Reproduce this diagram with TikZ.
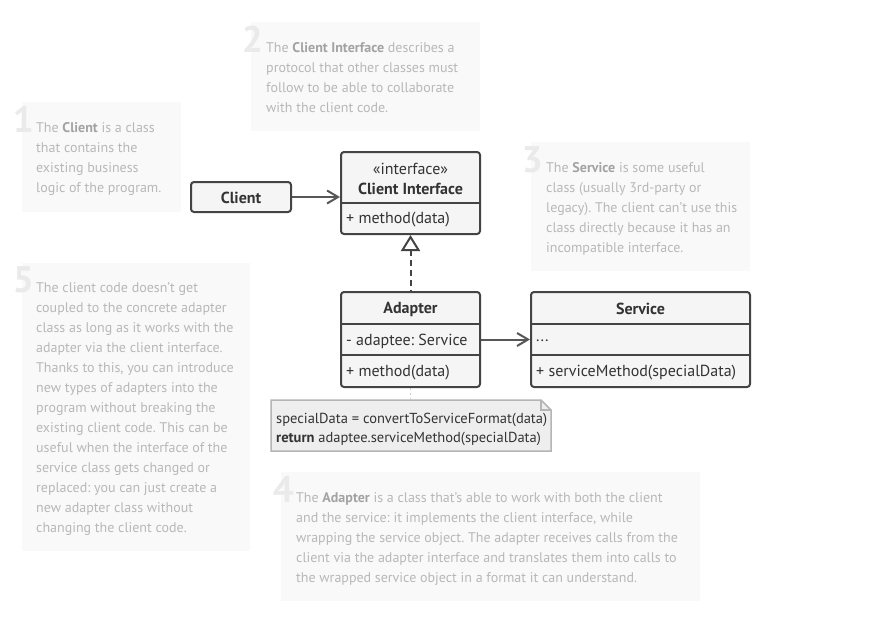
\documentclass[tikz,border=0pt]{standalone}
\usepackage{fontspec}
\setmainfont{PT Sans}
\usetikzlibrary{arrows.meta}
\frenchspacing
\definecolor{notebg}{HTML}{F9F9F9}
\definecolor{notetxt}{HTML}{B8B8B8}
\definecolor{notebold}{HTML}{A3A3A3}
\definecolor{numgray}{HTML}{EAEAEA}
\definecolor{boxfill}{HTML}{F5F5F5}
\definecolor{boxline}{HTML}{444444}
\definecolor{boxtxt}{HTML}{333333}
\definecolor{memofill}{HTML}{EEEEEE}
\definecolor{memoline}{HTML}{B5B5B5}
\newcommand{\nb}[1]{{\bfseries\color{notebold}#1}}
\tikzset{
  notebox/.style={fill=notebg, draw=none},
  notetext/.style={anchor=north west, inner sep=0pt, align=left, text=notetxt,
    font=\fontsize{14}{20}\selectfont},
  bignum/.style={anchor=base east, inner sep=0pt, text=numgray,
    font=\fontsize{37}{37}\selectfont\bfseries},
  umlbox/.style={draw=boxline, fill=boxfill, line width=2pt, rounded corners=3pt, inner sep=0pt},
  umltxt/.style={inner sep=0pt, text=boxtxt, font=\fontsize{16}{19}\selectfont},
  umlbold/.style={umltxt, font=\fontsize{16}{19}\selectfont\bfseries},
  divider/.style={draw=boxline, line width=2pt},
  assoc/.style={draw=boxline!90!white, line width=2pt, -{Straight Barb[length=11pt,width=13pt,line width=2pt]}},
  realize/.style={draw=boxline, line width=2pt, dash pattern=on 6pt off 4pt},
  memolink/.style={draw=memoline!70!white, line width=1.5pt, dash pattern=on 2pt off 3pt},
}
\begin{document}
\begin{tikzpicture}[x=1pt,y=-1pt]
\useasboundingbox (0,0) rectangle (883,640);
\fill[white] (0,0) rectangle (883,640);

% ---- note backgrounds
\path[notebox] (22,102) rectangle (181,212);
\path[notebox] (251,22) rectangle (480,131);
\path[notebox] (531,142) rectangle (750,271);
\path[notebox] (22,263) rectangle (250,551);
\path[notebox] (281,472) rectangle (700,601);

% ---- big numbers
\node[bignum] (n1) at (34,132) {1};
\node[bignum] (n2) at (263,52) {2};
\node[bignum] (n3) at (543,172) {3};
\node[bignum] (n5) at (34,292) {5};
\node[bignum] (n4) at (294,502) {4};

% ---- note texts
\node[notetext] (t1) at (36,122) {The \nb{Client} is a class\\that contains the\\existing business\\logic of the program.};
\node[notetext] (t2) at (266,42) {The \nb{Client Interface} describes a\\protocol that other classes must\\follow to be able to collaborate\\with the client code.};
\node[notetext] (t3) at (546,162) {The \nb{Service} is some useful\\class (usually 3rd-party or\\legacy). The client can’t use this\\class directly because it has an\\incompatible interface.};
\node[notetext] (t5) at (36,282) {The client code doesn’t get\\coupled to the concrete adapter\\class as long as it works with the\\adapter via the client interface.\\Thanks to this, you can introduce\\new types of adapters into the\\program without breaking the\\existing client code. This can be\\useful when the interface of the\\service class gets changed or\\replaced: you can just create a\\new adapter class without\\changing the client code.};
\node[notetext] (t4) at (296,492) {The \nb{Adapter} is a class that’s able to work with both the client\\and the service: it implements the client interface, while\\wrapping the service object. The adapter receives calls from the\\client via the adapter interface and translates them into calls to\\the wrapped service object in a format it can understand.};

% ---- memo note
\draw[fill=memofill, draw=memoline, line width=1.5pt]
  (271,400) -- (541,400) -- (551,410) -- (551,451) -- (271,451) -- cycle;
\draw[draw=memoline, line width=1.2pt] (541,400) -- (541,410) -- (551,410);
\node[umltxt, anchor=north west, align=left, font=\fontsize{14.5}{19}\selectfont] (memo) at (276,413)
  {specialData = convertToServiceFormat(data)\\\textbf{return} adaptee.serviceMethod(specialData)};

% ---- Client
\node[umlbox, minimum width=100pt, minimum height=30pt] (client) at (241,197) {};
\node[umlbold] (clientname) at (241,198) {Client};

% ---- Client Interface
\node[umlbox, minimum width=139pt, minimum height=82pt] (iface) at (410.5,193) {};
\coordinate (ifdl) at (341,203);
\coordinate (ifdr) at (480,203);
\draw[divider] (ifdl) -- (ifdr);
\node[umltxt] (ifster) at (410.5,169) {«interface»};
\node[umlbold] (ifname) at (410.5,189) {Client Interface};
\node[umltxt, anchor=west] (ifm) at (346,220) {+ method(data)};

% ---- Adapter
\node[umlbox, minimum width=139pt, minimum height=95pt] (adapter) at (410.5,339.5) {};
\coordinate (ad1l) at (341,324); \coordinate (ad1r) at (480,324);
\coordinate (ad2l) at (341,355); \coordinate (ad2r) at (480,355);
\draw[divider] (ad1l) -- (ad1r);
\draw[divider] (ad2l) -- (ad2r);
\node[umlbold] (adname) at (410.5,309) {Adapter};
\node[umltxt, anchor=west] (adf) at (346,341) {- adaptee: Service};
\node[umltxt, anchor=west] (adm) at (346,372.5) {+ method(data)};

% ---- Service
\node[umlbox, minimum width=219pt, minimum height=95pt] (service) at (640.5,339.5) {};
\coordinate (sv1l) at (531,324); \coordinate (sv1r) at (750,324);
\coordinate (sv2l) at (531,355); \coordinate (sv2r) at (750,355);
\draw[divider] (sv1l) -- (sv1r);
\draw[divider] (sv2l) -- (sv2r);
\node[umlbold] (svname) at (640.5,309) {Service};
\node[umltxt, anchor=west] (svf) at (536,341) {...};
\node[umltxt, anchor=west] (svm) at (536,372.5) {+ serviceMethod(specialData)};

% ---- connectors
\draw[assoc] (client.east) -- (client.east -| iface.west);
\draw[assoc] (adapter.east) -- (adapter.east -| service.west);
\coordinate (triapex) at (410.5,237);
\coordinate (tribase) at (410.5,250);
\draw[realize] (tribase) -- (adapter.north);
\draw[draw=boxline, fill=white, line width=2pt, line join=miter]
  (triapex) -- ([xshift=8pt]tribase) -- ([xshift=-8pt]tribase) -- cycle;
\coordinate (memotop) at (410.5,400);
\draw[memolink] (adapter.south) -- (memotop);
\end{tikzpicture}
\end{document}
